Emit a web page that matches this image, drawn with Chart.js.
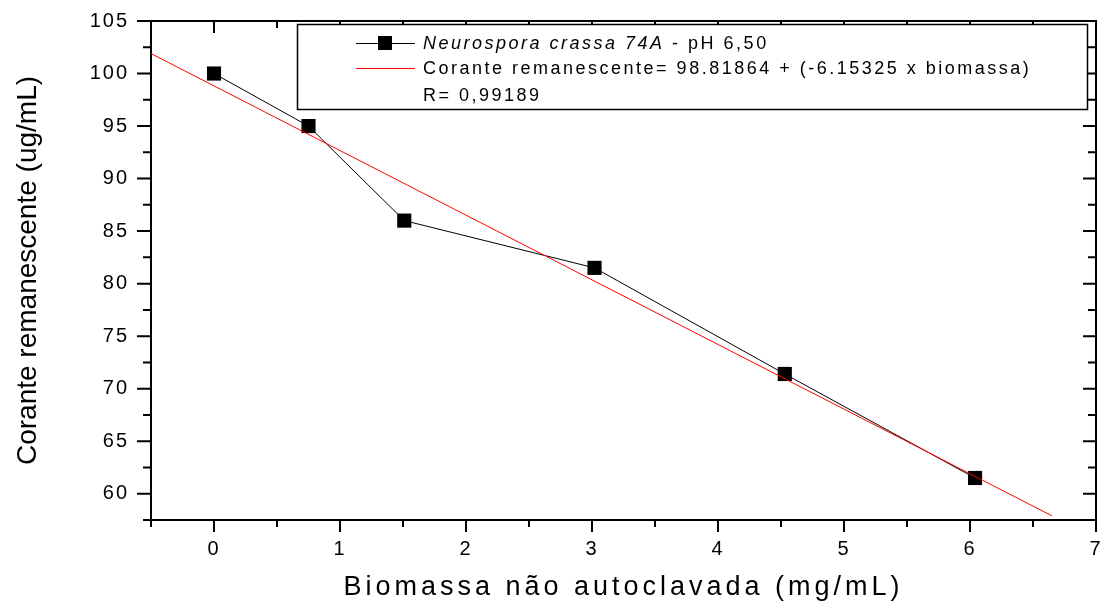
<!DOCTYPE html>
<html><head><meta charset="utf-8">
<script src="https://cdn.jsdelivr.net/npm/chart.js@4"></script>
<style>html,body{margin:0;padding:0;background:#fff}#wrap{width:1106px;height:608px}</style>
</head><body><div id="wrap"><canvas id="c" width="1106" height="608"></canvas></div>
<script>
// ---- data ----
const biomassa = [0, 0.75, 1.51, 3.02, 4.53, 6.04];
const corante  = [100, 95, 86, 81.5, 71.4, 61.5];
const fitX = [-0.5, 6.65];
const fitY = [101.9, 57.9];
const xMajorTicks = [0, 1, 2, 3, 4, 5, 6, 7];
const xMinorTicks = [-0.5, 0.5, 1.5, 2.5, 3.5, 4.5, 5.5, 6.5];
const yMajorTicks = [60, 65, 70, 75, 80, 85, 90, 95, 100, 105];
const yMinorTicks = [57.5, 62.5, 67.5, 72.5, 77.5, 82.5, 87.5, 92.5, 97.5, 102.5];
const seriesLabel = ['Neurospora crassa 74A', ' - pH 6,50'];
const fitLabel = 'Corante remanescente= 98.81864 + (-6.15325 x biomassa)';
const rLabel = 'R= 0,99189';
const xTitle = 'Biomassa não autoclavada (mg/mL)';
const yTitle = 'Corante remanescente (ug/mL)';

const FONT = "'Liberation Sans', Arial, sans-serif";

const textSpacing = {
  id: 'textSpacing',
  beforeDraw(chart) {
    chart.ctx.letterSpacing = '2px';
    const patch = (s, sp) => {
      if (s._lsPatched) return;
      const orig = s.drawTitle.bind(s);
      s.drawTitle = function () {
        const c = this.ctx; const prev = c.letterSpacing;
        c.letterSpacing = sp; orig(); c.letterSpacing = prev;
      };
      s._lsPatched = true;
    };
    patch(chart.scales.x, '4px');
    patch(chart.scales.y, '0px');
  }
};

const frameTicks = {
  id: 'frameTicks',
  afterDraw(chart) {
    const {ctx, chartArea: a, scales: {x, y}} = chart;
    ctx.save();
    ctx.strokeStyle = '#000';
    ctx.lineWidth = 2;
    ctx.beginPath();
    ctx.moveTo(a.left - 1, a.top); ctx.lineTo(a.right, a.top); ctx.lineTo(a.right, a.bottom + 1);
    const seg = (x1, y1, x2, y2) => { ctx.moveTo(x1, y1); ctx.lineTo(x2, y2); };
    xMajorTicks.forEach(v => { const p = x.getPixelForValue(v); seg(p, a.bottom, p, a.bottom + 12); seg(p, a.top, p, a.top + 12); });
    xMinorTicks.forEach(v => { const p = x.getPixelForValue(v); seg(p, a.bottom, p, a.bottom + 7); seg(p, a.top, p, a.top + 7); });
    yMajorTicks.forEach(v => { const p = y.getPixelForValue(v); seg(a.left - 14, p, a.left, p); seg(a.right - 13, p, a.right, p); });
    yMinorTicks.forEach(v => { const p = y.getPixelForValue(v); seg(a.left - 8, p, a.left, p); seg(a.right - 8, p, a.right, p); });
    ctx.stroke();

    // legend box
    ctx.fillStyle = '#fff';
    ctx.fillRect(297, 24, 791, 86);
    ctx.lineWidth = 1.5;
    ctx.strokeRect(297.5, 24.5, 790, 85);
    ctx.lineWidth = 1;
    ctx.strokeStyle = '#000';
    ctx.beginPath(); ctx.moveTo(356, 43.5); ctx.lineTo(415, 43.5); ctx.stroke();
    ctx.fillStyle = '#000';
    ctx.fillRect(378, 36, 14, 14);
    ctx.strokeStyle = '#ff0000';
    ctx.beginPath(); ctx.moveTo(356, 68.5); ctx.lineTo(415, 68.5); ctx.stroke();

    ctx.letterSpacing = '2.5px';
    ctx.textBaseline = 'middle';
    ctx.textAlign = 'left';
    ctx.fillStyle = '#000';
    ctx.font = 'italic 18px ' + FONT;
    ctx.fillText(seriesLabel[0], 423, 44);
    const w = ctx.measureText(seriesLabel[0]).width;
    ctx.font = '18px ' + FONT;
    ctx.fillText(seriesLabel[1], 423 + w, 44);
    ctx.fillText(fitLabel, 423, 69);
    ctx.fillText(rLabel, 423, 96);
    ctx.restore();
  }
};

const noPad = s => { s.paddingLeft = 0; s.paddingRight = 0; s.paddingTop = 0; s.paddingBottom = 0; };

new Chart(document.getElementById('c'), {
  type: 'scatter',
  data: {
    datasets: [
      {
        label: fitLabel,
        data: fitX.map((v, i) => ({x: v, y: fitY[i]})),
        showLine: true,
        borderColor: '#ff0000',
        borderWidth: 1,
        pointRadius: 0,
        order: 0
      },
      {
        label: seriesLabel.join(''),
        data: biomassa.map((v, i) => ({x: v, y: corante[i]})),
        showLine: true,
        borderColor: '#000',
        borderWidth: 1,
        pointStyle: 'rect',
        pointRadius: 10,
        pointBackgroundColor: '#000',
        pointBorderColor: '#000',
        pointBorderWidth: 0,
        order: 1
      }
    ]
  },
  options: {
    responsive: false,
    animation: false,
    devicePixelRatio: 1,
    layout: {padding: {top: 21, right: 9, left: 0, bottom: 0}},
    plugins: {legend: {display: false}, tooltip: {enabled: false}},
    scales: {
      x: {
        type: 'linear',
        min: -0.5, max: 7,
        afterBuildTicks: s => { s.ticks = xMajorTicks.map(v => ({value: v})); },
        afterFit: s => { s.height = 88; noPad(s); },
        grid: {display: false, drawTicks: false},
        border: {display: true, color: '#000', width: 2},
        ticks: {color: '#000', padding: 17, font: {family: FONT, size: 20}, maxRotation: 0, callback: v => String(v)},
        title: {display: true, text: xTitle, color: '#000', font: {family: FONT, size: 27}, padding: {top: 0, bottom: 4}}
      },
      y: {
        type: 'linear',
        min: 57.5, max: 105,
        afterBuildTicks: s => { s.ticks = yMajorTicks.map(v => ({value: v})); },
        afterFit: s => { s.width = 151; noPad(s); },
        grid: {display: false, drawTicks: false},
        border: {display: true, color: '#000', width: 2},
        ticks: {color: '#000', padding: 22, font: {family: FONT, size: 20}, callback: v => String(v)},
        title: {display: true, text: yTitle, color: '#000', font: {family: FONT, size: 28}, padding: {top: 11, bottom: 0}}
      }
    }
  },
  plugins: [textSpacing, frameTicks]
});
</script>
</body></html>
